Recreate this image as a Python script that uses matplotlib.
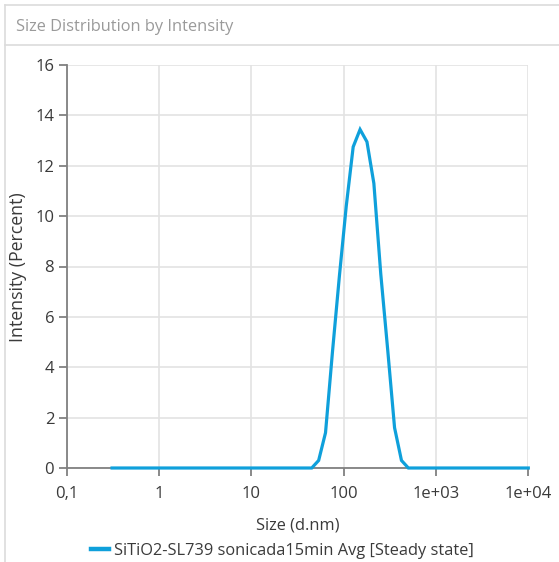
#!/usr/bin/env python3
"""Size distribution by intensity (DLS), log-scale size axis."""

import matplotlib
matplotlib.use("Agg")
import matplotlib.pyplot as plt
from matplotlib.lines import Line2D

# Size classes (d.nm) and intensity (%) for the averaged measurement
size_nm = [0.31, 45.1, 53.6, 63.6, 75.6, 89.8, 106.7, 126.8, 150.6,
           178.8, 212.4, 252.4, 299.8, 355.9, 422.8, 502.2, 10000.0]
intensity_pct = [0.0, 0.0, 0.3, 1.4, 4.6, 7.6, 10.4, 12.75, 13.44,
                 12.95, 11.3, 7.7, 4.7, 1.6, 0.3, 0.0, 0.0]

series_label = "SiTiO2-SL739 sonicada15min Avg [Steady state]"
x_ticks = [0.1, 1, 10, 100, 1e3, 1e4]
x_tick_labels = ["0,1", "1", "10", "100", "1e+03", "1e+04"]
y_ticks = [0, 2, 4, 6, 8, 10, 12, 14, 16]

LINE_BLUE = "#0fa0db"
AXIS_GREY = "#808080"
GRID_GREY = "#e3e3e3"
TEXT = "#3a3a3a"

plt.rcParams["font.family"] = ["Open Sans", "DejaVu Sans"]

W, H = 559, 562
fig = plt.figure(figsize=(W / 100, H / 100), dpi=100)

ax = fig.add_axes([66.7 / W, 1 - 468 / H, 461.6 / W, 403 / H])
ax.plot(size_nm, intensity_pct, color=LINE_BLUE, linewidth=2.3,
        solid_joinstyle="miter", label=series_label, clip_on=False, zorder=3)

ax.set_xscale("log")
ax.set_xlim(0.1, 1e4)
ax.set_ylim(0, 16)
ax.set_xticks(x_ticks)
ax.set_xticklabels(x_tick_labels)
ax.xaxis.set_minor_locator(matplotlib.ticker.NullLocator())
ax.set_yticks(y_ticks)

ax.grid(True, color=GRID_GREY, linewidth=1.2)
ax.set_axisbelow(True)
for side in ("top", "right"):
    ax.spines[side].set_visible(False)
for side in ("left", "bottom"):
    ax.spines[side].set_color(AXIS_GREY)
    ax.spines[side].set_linewidth(1.3)
ax.tick_params(axis="both", colors=AXIS_GREY, length=6, width=1.3,
               labelcolor=TEXT, labelsize=12)
ax.tick_params(axis="x", pad=7)
ax.tick_params(axis="y", pad=3)

ax.set_xlabel("Size (d.nm)", fontsize=11.8, color=TEXT, labelpad=11)
fig.text(18 / W, 1 - 267 / H, "Intensity (Percent)", rotation=90,
         ha="center", va="center", fontsize=12.8, color=TEXT)

# Legend below the plot
fig.legend(handles=[Line2D([], [], color=LINE_BLUE, linewidth=3.2)],
           labels=[series_label], loc="center left",
           bbox_to_anchor=(76 / W, 1 - 551 / H), frameon=False,
           fontsize=11.8, handlelength=1.1, handletextpad=0.3,
           labelcolor=TEXT)

# Panel frame and header
frame = "#dcdcdc"
fig.add_artist(Line2D([5 / W, 5 / W], [0, 1 - 5 / H], color=frame, lw=1.2))
fig.add_artist(Line2D([5 / W, 1], [1 - 5 / H, 1 - 5 / H], color=frame, lw=1.2))
fig.add_artist(Line2D([5 / W, 1], [1 - 45 / H, 1 - 45 / H], color=frame, lw=1.2))
fig.text(16 / W, 1 - 27 / H, "Size Distribution by Intensity",
         ha="left", va="center", fontsize=11.8, color="#9a9a9a")

fig.savefig("out.png", dpi=100)
